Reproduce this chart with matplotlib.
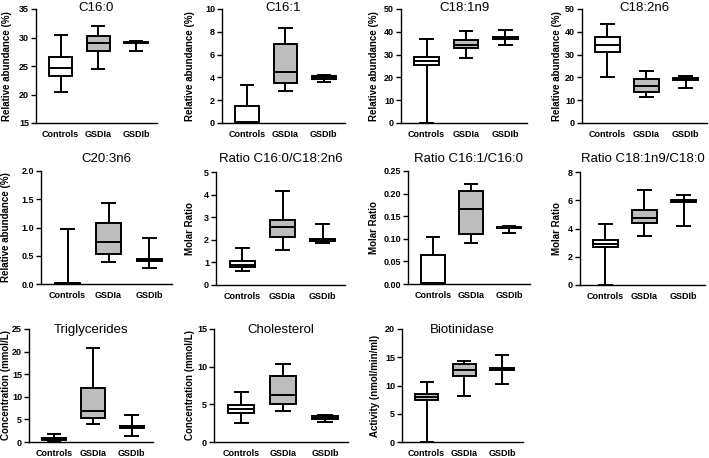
import matplotlib
matplotlib.use("Agg")
import matplotlib.pyplot as plt
from matplotlib.transforms import blended_transform_factory

plt.rcParams["font.family"] = ["Liberation Sans", "DejaVu Sans"]

groups = ["Controls", "GSDIa", "GSDIb"]

# five-number summaries per group: min, q1, median, q3, max
c16_0 = [[20.5, 23.2, 24.6, 26.6, 30.5], [24.5, 27.6, 29.0, 30.3, 32.1], [27.7, 28.95, 29.1, 29.25, 29.3]]
c16_1 = [[0.0, 0.0, 0.05, 1.5, 3.3], [2.8, 3.5, 4.5, 6.9, 8.3], [3.6, 3.9, 4.0, 4.1, 4.2]]
c18_1n9 = [[0.2, 25.5, 27.0, 29.0, 36.7], [28.5, 32.8, 34.0, 36.5, 40.3], [34.3, 36.9, 37.3, 37.7, 40.9]]
c18_2n6 = [[20.0, 31.3, 34.2, 37.6, 43.3], [11.2, 13.6, 16.2, 19.5, 23.0], [15.3, 18.8, 19.2, 19.6, 20.5]]
c20_3n6 = [[0.0, 0.0, 0.01, 0.02, 0.97], [0.39, 0.53, 0.75, 1.08, 1.44], [0.28, 0.41, 0.43, 0.45, 0.82]]
ratio1 = [[0.63, 0.78, 0.9, 1.05, 1.63], [1.55, 2.12, 2.57, 2.88, 4.17], [1.86, 1.95, 1.98, 2.03, 2.68]]
ratio2 = [[0.0, 0.0, 0.002, 0.065, 0.105], [0.09, 0.111, 0.167, 0.205, 0.222], [0.113, 0.123, 0.125, 0.127, 0.129]]
ratio3 = [[0.0, 2.7, 2.9, 3.2, 4.3], [3.5, 4.4, 4.75, 5.3, 6.75], [4.15, 5.85, 5.92, 6.0, 6.35]]
trig = [[0.1, 0.5, 0.65, 0.8, 1.8], [3.9, 5.2, 6.8, 12.0, 20.8], [1.3, 3.1, 3.3, 3.5, 6.0]]
chol = [[2.5, 3.9, 4.4, 4.9, 6.6], [4.1, 5.1, 6.3, 8.8, 10.3], [2.7, 3.1, 3.25, 3.4, 3.65]]
biot = [[0.0, 7.4, 7.9, 8.5, 10.7], [8.1, 11.6, 12.8, 13.8, 14.3], [10.2, 12.7, 12.9, 13.1, 15.4]]

titles = ["C16:0", "C16:1", "C18:1n9", "C18:2n6",
          "C20:3n6", "Ratio C16:0/C18:2n6", "Ratio C16:1/C16:0", "Ratio C18:1n9/C18:0",
          "Triglycerides", "Cholesterol", "Biotinidase"]
datasets = [c16_0, c16_1, c18_1n9, c18_2n6, c20_3n6, ratio1, ratio2, ratio3, trig, chol, biot]
ylabels = ["Relative abundance (%)"] * 5 + ["Molar Ratio"] * 3 + \
          ["Concentration (mmol/L)", "Concentration (mmol/L)", "Activity (nmol/min/ml)"]
yticks = [[15, 20, 25, 30, 35], [0, 2, 4, 6, 8, 10], [0, 10, 20, 30, 40, 50], [0, 10, 20, 30, 40, 50],
          [0.0, 0.5, 1.0, 1.5, 2.0], [0, 1, 2, 3, 4, 5], [0.00, 0.05, 0.10, 0.15, 0.20, 0.25], [0, 2, 4, 6, 8],
          [0, 5, 10, 15, 20, 25], [0, 5, 10, 15], [0, 5, 10, 15, 20]]
ytickfmt = ["{:.0f}"] * 4 + ["{:.1f}", "{:.0f}", "{:.2f}", "{:.0f}"] + ["{:.0f}"] * 3
# fill of the Controls box (white except Biotinidase), GSDIa gray, GSDIb white
ctrl_fill = ["white"] * 10 + ["#c4c4c4"]

# axes boxes in pixels: left, top, right, bottom
W, H = 709, 458
boxes = [(36, 9, 157, 123), (222, 9, 345, 123), (401, 9, 527, 123), (582, 9, 707, 123),
         (41, 171, 172, 284), (216, 172, 345, 285), (408, 171, 530, 284), (580, 172, 705, 285),
         (29, 329, 153, 442), (214, 329, 348, 442), (402, 329, 523, 442)]
title_y = [8] * 4 + [159] * 4 + [330] * 3
label_x = [7, 190, 374, 557, 6, 190, 374, 557, 6, 190, 375]

fig = plt.figure(figsize=(W / 100, H / 100), dpi=100)

for i in range(len(datasets)):
    l, t, r, b = boxes[i]
    ax = fig.add_axes([l / W, 1 - b / H, (r - l) / W, (b - t) / H])
    stats = []
    for g, s in zip(groups, datasets[i]):
        stats.append(dict(label=g, whislo=s[0], q1=s[1], med=s[2], q3=s[3], whishi=s[4], fliers=[]))
    bp = ax.bxp(stats, positions=[1, 2, 3], widths=0.62, patch_artist=True, showfliers=False,
                boxprops=dict(linewidth=1.4, edgecolor="black"),
                medianprops=dict(color="black", linewidth=1.4),
                whiskerprops=dict(color="black", linewidth=1.4),
                capprops=dict(color="black", linewidth=1.4), capwidths=0.32)
    fills = [ctrl_fill[i], "#bdbdbd", "white"]
    for patch, f in zip(bp["boxes"], fills):
        patch.set_facecolor(f)
    ax.set_xlim(0.35, 3.55)
    ax.set_ylim(yticks[i][0], yticks[i][-1])
    ax.set_yticks(yticks[i])
    ax.set_yticklabels([ytickfmt[i].format(v) for v in yticks[i]], fontsize=6.5, fontweight="bold")
    ax.set_xticks([1, 2, 3])
    ax.set_xticklabels(groups, fontsize=6.5, fontweight="bold")
    ax.tick_params(axis="x", length=0, pad=5)
    ax.tick_params(axis="y", length=3.5, width=1.0, pad=1.5)
    ax.spines["top"].set_visible(False)
    ax.spines["right"].set_visible(False)
    ax.spines["left"].set_linewidth(1.0)
    ax.spines["bottom"].set_linewidth(1.0)
    ax.set_ylabel(ylabels[i], fontsize=7, fontweight="bold")
    ax.yaxis.label.set(rotation_mode="default", ha="center", va="center")
    ax.yaxis.set_label_coords(label_x[i] / W, 0.5,
                              transform=blended_transform_factory(fig.transFigure, ax.transAxes))
    fig.text((l + r) / 2 / W, 1 - title_y[i] / H, titles[i], ha="center", va="center", fontsize=9.5)

fig.savefig("out.png", dpi=100)
